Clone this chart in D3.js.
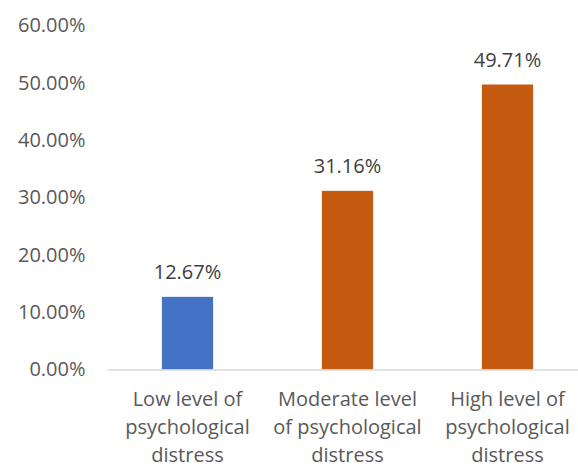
<!DOCTYPE html>
<html>
<head>
<meta charset="utf-8">
<script src="https://cdn.jsdelivr.net/npm/d3@7"></script>
<style>
  body { margin: 0; background: #fff; }
  text { font-family: "Open Sans", "Noto Sans", sans-serif; }
</style>
</head>
<body>
<div id="chart"></div>
<script>
// Data
const categories = ["Low level of psychological distress", "Moderate level of psychological distress", "High level of psychological distress"];
const labelLines = [
    ["Low level of", "psychological", "distress"],
    ["Moderate level", "of psychological", "distress"],
    ["High level of", "psychological", "distress"]
];
const values = [12.67, 31.16, 49.71];
const barColors = ["#4472C4", "#C55A11", "#C55A11"];
const yTicks = [0, 10, 20, 30, 40, 50, 60];

const width = 578;
const height = 468;
const margin = { left: 107.5, right: -9.5, top: 25.5, bottom: 98.5 };

const svg = d3.select("#chart")
    .append("svg")
    .attr("width", width)
    .attr("height", height);

const x = d3.scaleBand()
    .domain(categories)
    .range([margin.left, width - margin.right])
    .paddingInner(0.68)
    .paddingOuter(0.34);

const y = d3.scaleLinear()
    .domain([0, 60])
    .range([height - margin.bottom, margin.top]);

// Y axis labels
const yAxis = svg.append("g")
    .attr("transform", `translate(${margin.left},0)`)
    .call(d3.axisLeft(y).tickValues(yTicks).tickFormat(d => d.toFixed(2) + "%").tickSize(0).tickPadding(22));
yAxis.select(".domain").remove();
yAxis.selectAll("text")
    .attr("fill", "#595959")
    .style("font-size", "20px")
    .style("font-family", "'Open Sans', sans-serif");

// Bars
svg.selectAll(".bar")
    .data(values)
    .enter()
    .append("rect")
    .attr("class", "bar")
    .attr("x", (d, i) => x(categories[i]))
    .attr("width", x.bandwidth())
    .attr("y", d => y(d))
    .attr("height", d => y(0) - y(d))
    .attr("fill", (d, i) => barColors[i]);

// Baseline
svg.append("line")
    .attr("x1", margin.left)
    .attr("x2", width)
    .attr("y1", y(0) + 0.5)
    .attr("y2", y(0) + 0.5)
    .attr("stroke", "#d9d9d9")
    .attr("stroke-width", 1.5);

// Data labels
svg.selectAll(".val")
    .data(values)
    .enter()
    .append("text")
    .attr("class", "val")
    .attr("x", (d, i) => x(categories[i]) + x.bandwidth() / 2)
    .attr("y", d => y(d) - 17.5)
    .attr("text-anchor", "middle")
    .attr("fill", "#404040")
    .style("font-size", "20px")
    .text(d => d.toFixed(2) + "%");

// Category labels
const cat = svg.selectAll(".cat")
    .data(categories)
    .enter()
    .append("text")
    .attr("class", "cat")
    .attr("text-anchor", "middle")
    .attr("fill", "#595959")
    .style("font-size", "20px");

cat.selectAll("tspan")
    .data((d, i) => labelLines[i].map(t => ({ t, c: d })))
    .enter()
    .append("tspan")
    .attr("x", d => x(d.c) + x.bandwidth() / 2)
    .attr("y", (d, j) => 406 + j * 28)
    .text(d => d.t);
</script>
</body>
</html>
